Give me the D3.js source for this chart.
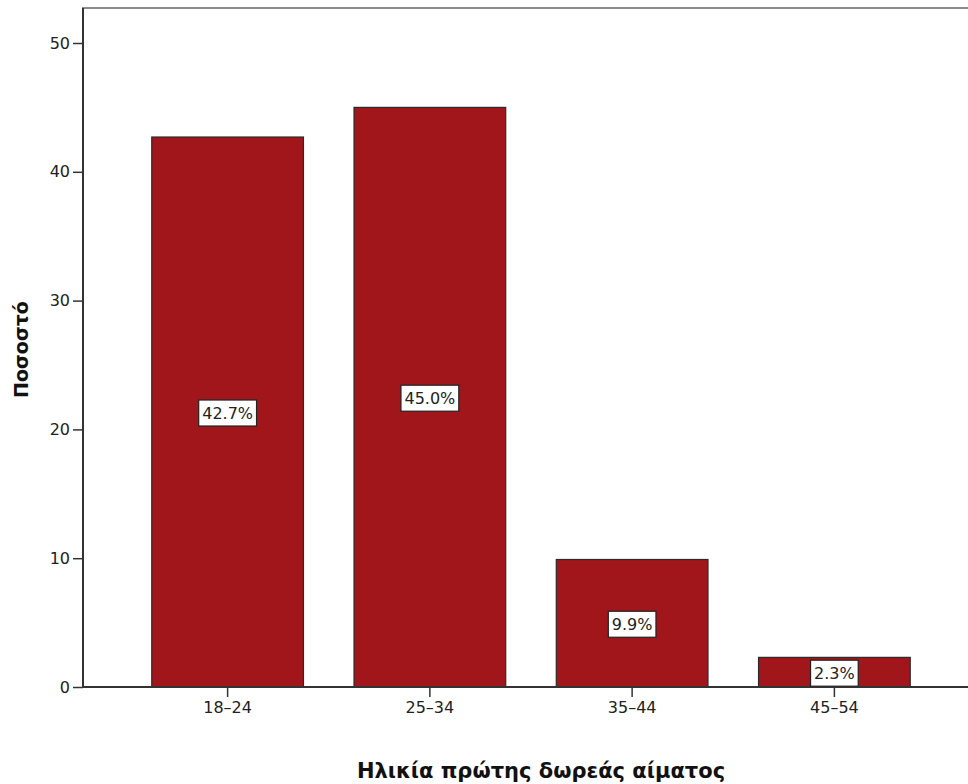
<!DOCTYPE html>
<html>
<head>
<meta charset="utf-8">
<script src="https://cdn.jsdelivr.net/npm/d3@7"></script>
<style>
  html, body { margin: 0; padding: 0; background: #fff; }
  svg { display: block; }
  text { font-family: "DejaVu Sans", "Noto Sans", sans-serif; }
</style>
</head>
<body>
<script>
// Age at first blood donation, percentage of respondents
const categories = ["18-24", "25-34", "35-44", "45-54"];
const percentages = [42.7, 45.0, 9.9, 2.3];
const yTicks = [0, 10, 20, 30, 40, 50];
const yTitle = "Ποσοστό";
const xTitle = "Ηλικία πρώτης δωρεάς αίματος";

const width = 968, height = 784;
const plotLeft = 83, plotTop = 8, plotBottom = 687, plotRight = 979;

const svg = d3.select("body").append("svg")
  .attr("width", width).attr("height", height);

const x = d3.scaleBand()
  .domain(categories)
  .range([plotLeft, plotRight])
  .paddingInner(0.25)
  .paddingOuter(0.34);

const y = d3.scaleLinear()
  .domain([0, 50])
  .range([plotBottom, plotBottom - 644]);

// frame
svg.append("rect")
  .attr("x", plotLeft).attr("y", plotTop)
  .attr("width", plotRight - plotLeft).attr("height", plotBottom - plotTop)
  .attr("fill", "none").attr("stroke", "#8c8c8c").attr("stroke-width", 2);

// bars
svg.append("g").selectAll("rect")
  .data(categories)
  .join("rect")
  .attr("x", d => x(d))
  .attr("y", (d, i) => y(percentages[i]))
  .attr("width", x.bandwidth())
  .attr("height", (d, i) => y(0) - y(percentages[i]))
  .attr("fill", "#a0161a")
  .attr("stroke", "#2a2a2a")
  .attr("stroke-width", 1.2);

// y axis
const yAxis = svg.append("g")
  .attr("transform", `translate(${plotLeft},0)`)
  .call(d3.axisLeft(y).tickValues(yTicks).tickSize(10).tickPadding(3).tickFormat(d3.format("d")));
yAxis.select(".domain").attr("stroke", "#333").attr("stroke-width", 2)
  .attr("d", `M0,${plotBottom}V${plotTop}`);
yAxis.selectAll(".tick line").attr("stroke", "#333").attr("stroke-width", 1.5);
yAxis.selectAll(".tick text").attr("font-size", 16).attr("fill", "#222")
  .attr("font-family", "DejaVu Sans, sans-serif");

// x axis
const xAxis = svg.append("g")
  .attr("transform", `translate(0,${plotBottom})`)
  .call(d3.axisBottom(x).tickSize(10).tickPadding(5).tickFormat(d => d.replace("-", "–")));
xAxis.select(".domain").attr("stroke", "#333").attr("stroke-width", 2)
  .attr("d", `M${plotLeft},0H${plotRight}`);
xAxis.selectAll(".tick line").attr("stroke", "#333").attr("stroke-width", 1.5);
xAxis.selectAll(".tick text").attr("font-size", 16).attr("fill", "#222")
  .attr("font-family", "DejaVu Sans, sans-serif");

// value labels in boxes, sized to their text
const labels = svg.append("g").selectAll("g")
  .data(categories)
  .join("g")
  .attr("transform", (d, i) => `translate(${x(d) + x.bandwidth() / 2},${y(percentages[i] / 2) + 1})`);
const boxes = labels.append("rect")
  .attr("fill", "#fff").attr("stroke", "#222").attr("stroke-width", 1.2);
const labelText = labels.append("text")
  .attr("text-anchor", "middle")
  .attr("dy", "0.36em")
  .attr("font-size", 16)
  .attr("fill", "#222")
  .text((d, i) => percentages[i].toFixed(1) + "%");
labelText.each(function (d, i) {
  const w = this.getComputedTextLength() + 7;
  d3.select(boxes.nodes()[i])
    .attr("x", -w / 2).attr("y", -13)
    .attr("width", w).attr("height", 26);
});

// axis titles
svg.append("text")
  .attr("transform", `translate(28,${(plotTop + plotBottom) / 2 + 2}) rotate(-90)`)
  .attr("text-anchor", "middle")
  .attr("font-size", 19).attr("font-weight", "bold").attr("fill", "#111")
  .text(yTitle);

svg.append("text")
  .attr("x", 541).attr("y", 778)
  .attr("text-anchor", "middle")
  .attr("font-size", 21).attr("font-weight", "bold").attr("fill", "#111")
  .text(xTitle);
</script>
</body>
</html>
